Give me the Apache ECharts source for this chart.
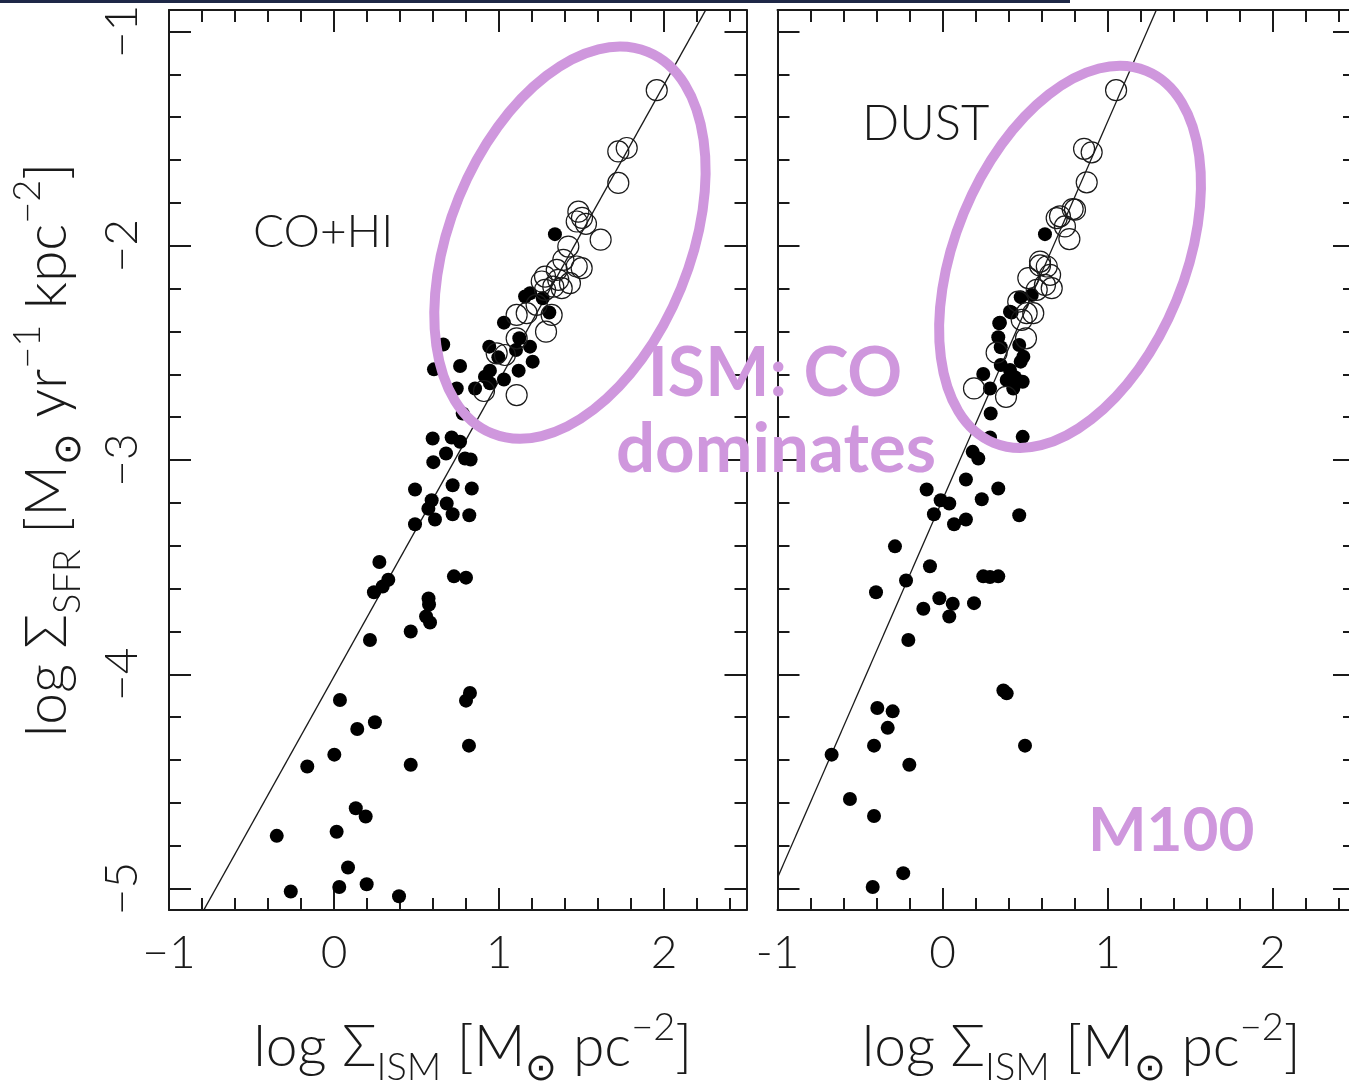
<!DOCTYPE html>
<html>
<head>
<meta charset="utf-8">
<script src="https://cdn.jsdelivr.net/npm/echarts@6/dist/echarts.min.js"></script>
<style>
  html, body { margin: 0; padding: 0; background: #fff; }
  #chart { width: 1349px; height: 1083px; }
</style>
</head>
<body>
<div id="chart"></div>
<script>
// Axis ticks (shared by both panels)
const xMajorTicks = [-1, 0, 1, 2];
const xMinorTicks = [-0.8, -0.6, -0.4, -0.2, 0.2, 0.4, 0.6, 0.8, 1.2, 1.4, 1.6, 1.8, 2.2, 2.4];
const yMajorTicks = [-5, -4, -3, -2, -1];
const yMinorTicks = [-4.8, -4.6, -4.4, -4.2, -3.8, -3.6, -3.4, -3.2, -2.8, -2.6, -2.4, -2.2, -1.8, -1.6, -1.4, -1.2];

// Left panel: CO+HI gas surface density vs star formation rate density
const coHiFilled = [
  [0.218, -3.84], [0.465, -3.80], [0.558, -3.73], [0.582, -3.758], [0.573, -3.646], [0.576, -3.674],
  [0.036, -4.12], [0.824, -4.087], [0.8, -4.123], [0.248, -4.224], [0.141, -4.255], [0.002, -4.375],
  [-0.162, -4.43], [0.465, -4.422], [0.818, -4.333], [0.132, -4.625], [0.192, -4.664], [-0.347, -4.754],
  [0.016, -4.735], [0.085, -4.902], [-0.262, -5.014], [0.032, -4.993], [0.198, -4.98], [0.394, -5.036],
  [0.727, -3.543], [0.8, -3.549], [0.275, -3.476], [0.329, -3.559], [0.295, -3.59], [0.242, -3.617],
  [0.491, -3.30], [0.612, -3.278], [0.719, -3.253], [0.82, -3.258], [0.683, -3.203], [0.572, -3.227],
  [0.592, -3.188], [0.491, -3.138], [0.719, -3.118], [0.835, -3.133], [0.602, -3.01], [0.679, -2.97],
  [0.794, -2.993], [0.828, -2.998], [0.598, -2.9], [0.713, -2.895], [0.764, -2.915], [0.78, -2.783],
  [0.744, -2.666], [0.606, -2.577], [0.662, -2.461], [0.764, -2.561], [0.855, -2.666], [0.915, -2.611],
  [0.945, -2.583], [0.945, -2.642], [1.03, -2.624], [0.941, -2.471], [0.996, -2.521], [1.03, -2.359],
  [1.123, -2.432], [1.103, -2.487], [1.188, -2.471], [1.204, -2.541], [1.119, -2.583], [1.339, -1.946],
  [1.158, -2.237], [1.188, -2.222], [1.265, -2.245], [1.305, -2.312]
];
const coHiOpen = [
  [1.956, -1.274], [1.723, -1.56], [1.774, -1.544], [1.723, -1.707], [1.481, -1.841], [1.503, -1.87],
  [1.527, -1.898], [1.471, -1.887], [1.616, -1.972], [1.42, -2.004], [1.39, -2.066], [1.471, -2.097],
  [1.501, -2.105], [1.35, -2.113], [1.279, -2.144], [1.359, -2.159], [1.259, -2.167], [1.43, -2.175],
  [1.329, -2.191], [1.279, -2.206], [1.38, -2.198], [1.168, -2.315], [1.228, -2.276], [1.319, -2.323],
  [1.285, -2.401], [1.107, -2.432], [1.036, -2.51], [1.107, -2.697], [0.909, -2.678], [0.986, -2.502],
  [1.107, -2.323]
];
const coHiFit = [[-0.792, -5.104], [2.255, -0.897]];

// Right panel: dust-based gas surface density
const dustFilled = [
  [-0.207, -3.84], [0.041, -3.73], [0.369, -4.076], [0.389, -4.089], [-0.395, -4.157], [-0.302, -4.173],
  [-0.332, -4.25], [-0.415, -4.333], [-0.672, -4.375], [-0.201, -4.422], [0.5, -4.333], [-0.561, -4.582],
  [-0.415, -4.661], [-0.238, -4.928], [-0.423, -4.993],
  [0.486, -2.892], [0.288, -2.895], [0.183, -2.962], [0.217, -2.993], [0.292, -2.783], [0.142, -3.091],
  [-0.096, -3.138], [0.338, -3.133], [0.238, -3.183], [-0.011, -3.188], [0.041, -3.203], [-0.052, -3.253],
  [0.465, -3.258], [0.142, -3.278], [0.07, -3.30], [-0.288, -3.403], [-0.076, -3.496], [-0.221, -3.562],
  [-0.403, -3.617], [0.247, -3.543], [0.288, -3.546], [0.338, -3.543], [-0.019, -3.645], [0.062, -3.671],
  [-0.116, -3.694], [0.191, -3.668],
  [0.344, -2.362], [0.419, -2.312], [0.338, -2.427], [0.353, -2.474], [0.465, -2.463], [0.49, -2.518],
  [0.474, -2.541], [0.353, -2.557], [0.247, -2.599], [0.409, -2.58], [0.439, -2.614], [0.389, -2.627],
  [0.486, -2.635], [0.288, -2.666], [0.429, -2.666], [0.621, -1.946], [0.474, -2.24], [0.541, -2.23],
  [0.409, -2.308], [0.348, -2.359]
];
const dustOpen = [
  [1.052, -1.274], [0.858, -1.548], [0.904, -1.564], [0.874, -1.704], [0.789, -1.829], [0.692, -1.871],
  [0.742, -1.91], [0.769, -1.969], [0.803, -1.832], [0.712, -1.863], [0.591, -2.074], [0.632, -2.097],
  [0.652, -2.136], [0.52, -2.151], [0.621, -2.183], [0.662, -2.198], [0.571, -2.206], [0.591, -2.092],
  [0.459, -2.261], [0.51, -2.315], [0.55, -2.315], [0.48, -2.346], [0.506, -2.432], [0.328, -2.499],
  [0.191, -2.666], [0.385, -2.705]
];
const dustFit = [[-1.0, -4.95], [1.298, -0.897]];

const INK = '#1a1a1a';
const PURPLE = '#cf97dd';
const FONT = "Lato, 'Open Sans', 'DejaVu Sans', sans-serif";

const richTitle = {
  n:   { fontSize: 57, fontFamily: FONT, fontWeight: 300, color: INK, lineHeight: 78 },
  sub: { fontSize: 38, fontFamily: FONT, fontWeight: 300, color: INK, lineHeight: 36, verticalAlign: 'bottom' },
  sup: { fontSize: 38, fontFamily: FONT, fontWeight: 300, color: INK, lineHeight: 36, verticalAlign: 'top' }
};
const xTitle = '{n|log Σ}{sub|ISM}{n| [M}{sub|⊙}{n| pc}{sup|−2}{n|]}';
const yTitle = '{n|log Σ}{sub|SFR}{n| [M}{sub|⊙}{n| yr}{sup|−1}{n| kpc}{sup|−2}{n|]}';

const minusFmt = v => (v < 0 ? '\u2212' + Math.abs(v) : String(v));
const hyphenFmt = v => (v < 0 ? '-' + Math.abs(v) : String(v));

const frameLine = { show: true, onZero: false, lineStyle: { color: INK, width: 2 } };
const noLine = { show: false, onZero: false };
const tickLine = { color: INK, width: 2 };
const tickLabel = { color: INK, fontSize: 46, fontFamily: FONT, fontWeight: 300 };

function makeXAxes(g, fmt) {
  const base = { type: 'value', gridIndex: g, min: -1, max: 2.5, splitLine: { show: false } };
  return [
    Object.assign({}, base, {
      position: 'bottom', axisLine: frameLine,
      axisTick: { show: true, inside: true, length: 22, customValues: xMajorTicks, lineStyle: tickLine },
      axisLabel: Object.assign({ show: true, customValues: xMajorTicks, formatter: fmt, margin: 20 }, tickLabel),
      name: xTitle, nameLocation: 'middle', nameGap: 99,
      nameTextStyle: { rich: richTitle, padding: [0, 0, 0, 30] }
    }),
    Object.assign({}, base, {
      position: 'bottom', axisLine: noLine,
      axisTick: { show: true, inside: true, length: 12, customValues: xMinorTicks, lineStyle: tickLine },
      axisLabel: { show: false }
    }),
    Object.assign({}, base, {
      position: 'top', axisLine: frameLine,
      axisTick: { show: true, inside: true, length: 22, customValues: xMajorTicks, lineStyle: tickLine },
      axisLabel: { show: false }
    }),
    Object.assign({}, base, {
      position: 'top', axisLine: noLine,
      axisTick: { show: true, inside: true, length: 12, customValues: xMinorTicks, lineStyle: tickLine },
      axisLabel: { show: false }
    })
  ];
}

function makeYAxes(g, withLabels) {
  const base = { type: 'value', gridIndex: g, min: -5.1, max: -0.9, splitLine: { show: false } };
  const leftMajor = Object.assign({}, base, {
    position: 'left', axisLine: frameLine,
    axisTick: { show: true, inside: true, length: 22, customValues: yMajorTicks, lineStyle: tickLine },
    axisLabel: withLabels
      ? Object.assign({ show: true, customValues: yMajorTicks, formatter: minusFmt, rotate: 90, margin: 24 }, tickLabel)
      : { show: false }
  });
  if (withLabels) {
    Object.assign(leftMajor, {
      name: yTitle, nameLocation: 'middle', nameRotate: 90, nameGap: 82,
      nameTextStyle: { rich: richTitle, padding: [0, 0, 0, 20] }
    });
  }
  return [
    leftMajor,
    Object.assign({}, base, {
      position: 'left', axisLine: noLine,
      axisTick: { show: true, inside: true, length: 12, customValues: yMinorTicks, lineStyle: tickLine },
      axisLabel: { show: false }
    }),
    Object.assign({}, base, {
      position: 'right', axisLine: frameLine,
      axisTick: { show: true, inside: true, length: 22, customValues: yMajorTicks, lineStyle: tickLine },
      axisLabel: { show: false }
    }),
    Object.assign({}, base, {
      position: 'right', axisLine: noLine,
      axisTick: { show: true, inside: true, length: 12, customValues: yMinorTicks, lineStyle: tickLine },
      axisLabel: { show: false }
    })
  ];
}

function panelSeries(g, filled, open, fit) {
  const ax = { xAxisIndex: g * 4, yAxisIndex: g * 4 };
  return [
    Object.assign({ type: 'line', data: fit, symbol: 'none', silent: true, z: 2,
      lineStyle: { color: INK, width: 1.3 } }, ax),
    Object.assign({ type: 'scatter', data: filled, symbol: 'circle', symbolSize: 14, silent: true, z: 3,
      itemStyle: { color: '#000', opacity: 1 } }, ax),
    Object.assign({ type: 'scatter', data: open, symbol: 'circle', symbolSize: 21, silent: true, z: 4,
      itemStyle: { color: 'rgba(0,0,0,0)', borderColor: INK, borderWidth: 1.2, opacity: 1 } }, ax)
  ];
}

const chart = echarts.init(document.getElementById('chart'), null, { renderer: 'canvas' });

chart.setOption({
  animation: false,
  backgroundColor: '#ffffff',
  grid: [
    { left: 169, top: 10, width: 577.5, height: 900, outerBoundsMode: 'none', containLabel: false },
    { left: 777.5, top: 10, width: 577.5, height: 900, outerBoundsMode: 'none', containLabel: false }
  ],
  xAxis: makeXAxes(0, minusFmt).concat(makeXAxes(1, hyphenFmt)),
  yAxis: makeYAxes(0, true).concat(makeYAxes(1, false)),
  series: panelSeries(0, coHiFilled, coHiOpen, coHiFit).concat(panelSeries(1, dustFilled, dustOpen, dustFit))
});

// Annotations: rings around the CO-dominated points, panel labels
const rings = [
  { series: 0, center: [1.43, -1.986], rx: 120, ry: 206, tilt: 22.2 },
  { series: 3, center: [0.773, -2.052], rx: 115, ry: 201, tilt: 22.3 }
];
const panelLabels = [
  { series: 0, at: [-0.491, -1.935], text: 'CO+HI', size: 46, weight: 300, color: INK },
  { series: 3, at: [-0.488, -1.435], text: 'DUST', size: 49, weight: 300, color: INK },
  { series: 3, at: [0.882, -4.731], text: 'M100', size: 62, weight: 'bold', color: PURPLE }
];

const graphics = [
  { type: 'rect', shape: { x: 0, y: 0, width: 1070, height: 3 }, style: { fill: '#1e2847' }, z: 200 }
];
rings.forEach(r => {
  const p = chart.convertToPixel({ seriesIndex: r.series }, r.center);
  graphics.push({
    type: 'ellipse', x: p[0], y: p[1], rotation: -r.tilt * Math.PI / 180,
    shape: { cx: 0, cy: 0, rx: r.rx, ry: r.ry },
    style: { fill: 'none', stroke: PURPLE, lineWidth: 10 }, z: 100, silent: true
  });
});
panelLabels.forEach(l => {
  const p = chart.convertToPixel({ seriesIndex: l.series }, l.at);
  graphics.push({
    type: 'text', x: p[0], y: p[1], z: 110, silent: true,
    style: { text: l.text, fill: l.color, font: `${l.weight} ${l.size}px ${FONT}`,
      textAlign: 'left', textVerticalAlign: 'middle' }
  });
});
graphics.push(
  { type: 'text', x: 775, y: 374, z: 120, silent: true,
    style: { text: 'ISM: CO', fill: PURPLE, font: `bold 68px ${FONT}`, textAlign: 'center', textVerticalAlign: 'middle' } },
  { type: 'text', x: 776, y: 450, z: 120, silent: true,
    style: { text: 'dominates', fill: PURPLE, font: `bold 69px ${FONT}`, textAlign: 'center', textVerticalAlign: 'middle' } }
);
chart.setOption({ graphic: graphics });
</script>
</body>
</html>
